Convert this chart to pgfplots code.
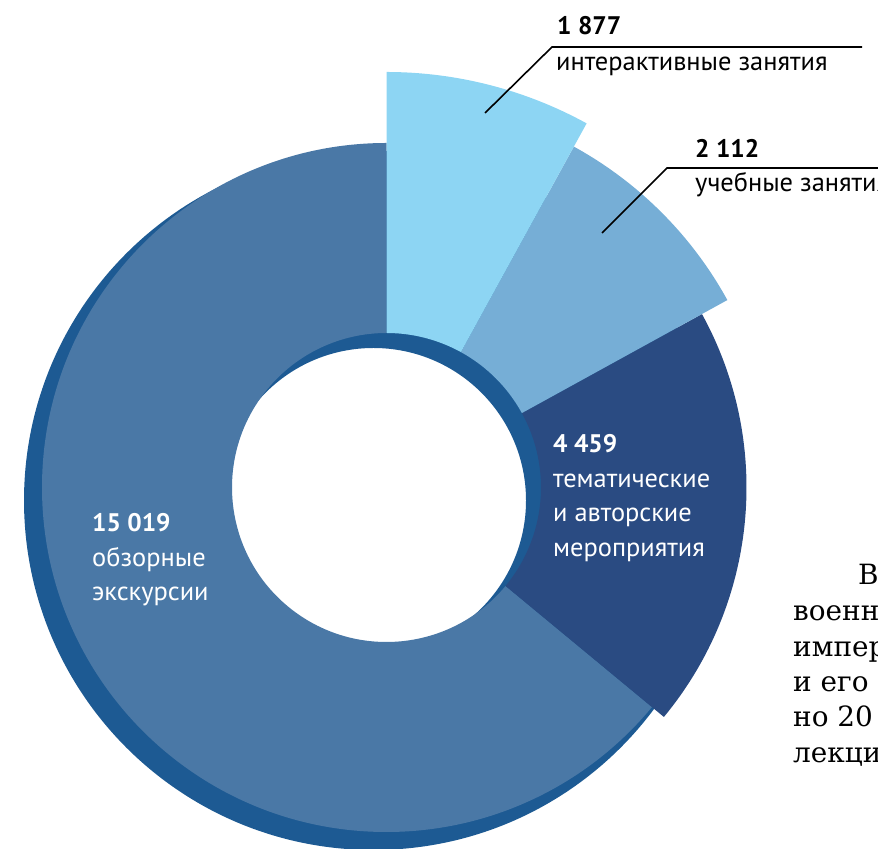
\documentclass[border=0pt]{standalone}
\usepackage{pgfplots}
\pgfplotsset{compat=1.18}
\usepackage{pgfplotstable}
\usepackage{fontspec}
\setmainfont{PT Sans}
\newfontfamily\seriffont{DejaVu Serif}

\definecolor{cBig}{HTML}{4A78A6}
\definecolor{cBase}{HTML}{1D5A93}
\definecolor{cNavy}{HTML}{2A4B82}
\definecolor{cMid}{HTML}{76AED6}
\definecolor{cLight}{HTML}{8DD5F3}

% value = number of events, radius = outer radius of the sector (px)
\pgfplotstableread{
name value radius color
obzor 15019 344.5 cBig
tema 4459 360 cNavy
ucheb 2112 389 cMid
inter 1877 415.5 cLight
}\piedata

\def\cx{386.5}
\def\cy{361.5}
\def\ri{154.5}

\newcommand\computepie{%
  \gdef\total{0}%
  \pgfplotsforeachungrouped \i in {0,...,3}{%
    \pgfplotstablegetelem{\i}{value}\of\piedata
    \xdef\total{\fpeval{\total+\pgfplotsretval}}}%
  \gdef\cum{90}%
  \pgfplotsforeachungrouped \i in {0,...,3}{%
    \pgfplotstablegetelem{\i}{value}\of\piedata
    \expandafter\xdef\csname pa\i\endcsname{\cum}%
    \xdef\cum{\fpeval{\cum+360*\pgfplotsretval/\total}}%
    \expandafter\xdef\csname pb\i\endcsname{\cum}%
    \pgfplotstablegetelem{\i}{radius}\of\piedata
    \expandafter\xdef\csname pr\i\endcsname{\pgfplotsretval}%
    \pgfplotstablegetelem{\i}{color}\of\piedata
    \expandafter\xdef\csname pc\i\endcsname{\pgfplotsretval}%
  }}

\newcommand\drawsector[1]{%
  \edef\A{\csname pa#1\endcsname}\edef\B{\csname pb#1\endcsname}%
  \edef\R{\csname pr#1\endcsname}\edef\C{\csname pc#1\endcsname}%
  \edef\next{\noexpand\fill[\C] ({\cx+\ri*cos(\A)},{\cy+\ri*sin(\A)}) --
    ({\cx+\R*cos(\A)},{\cy+\R*sin(\A)}) arc[start angle=\A, end angle=\B, radius=\R bp] --
    ({\cx+\ri*cos(\B)},{\cy+\ri*sin(\B)}) arc[start angle=\B, end angle=\A, radius=\ri bp] -- cycle;}%
  \next}

\begin{document}
\computepie
\begin{tikzpicture}
\path[use as bounding box, clip] (0,0) rectangle (878bp,849bp);
\begin{axis}[at={(0,0)}, anchor=south west, scale only axis,
  width=878bp, height=849bp, xmin=0, xmax=878, ymin=0, ymax=849,
  hide axis, clip=false]
% shadow ring
\fill[cBase, even odd rule] (373.5,348.5) circle[radius=349.5bp] (373.5,348.5) circle[radius=152.5bp];
\drawsector{0}
\drawsector{1}
\drawsector{2}
\drawsector{3}
% leader lines
\draw[black, line width=1.6bp] (485,736) -- (552,802) -- (862,802);
\draw[black, line width=1.6bp] (602,616) -- (667,681) -- (890,681);
% labels
\begin{scope}[every node/.style={anchor=base west, inner sep=0pt, font=\fontsize{26.5}{30}\selectfont}]
\node[font=\fontsize{25.5}{30}\selectfont\bfseries] at (557,814) {1 877};
\node at (556,778) {интерактивные занятия};
\node[font=\fontsize{25.5}{30}\selectfont\bfseries] at (695,691) {2 112};
\node at (695,657) {учебные занятия};
\node[white, font=\fontsize{25.5}{30}\selectfont\bfseries] at (553,396) {4 459};
\node[white] at (553,361) {тематические};
\node[white] at (553,327) {и авторские};
\node[white] at (553,292) {мероприятия};
\node[white, font=\fontsize{25.5}{30}\selectfont\bfseries] at (92,317) {15 019};
\node[white] at (92,282) {обзорные};
\node[white] at (92,248) {экскурсии};
\end{scope}
\begin{scope}[every node/.style={anchor=base west, inner sep=0pt, font=\seriffont\fontsize{28}{32}\selectfont}]
\node at (858,264) {В};
\node at (793,228) {военно};
\node at (793,192) {импер};
\node at (793,157) {и его};
\node at (793,122) {но 20};
\node at (793,86) {лекци};
\end{scope}
\end{axis}
\end{tikzpicture}
\end{document}
